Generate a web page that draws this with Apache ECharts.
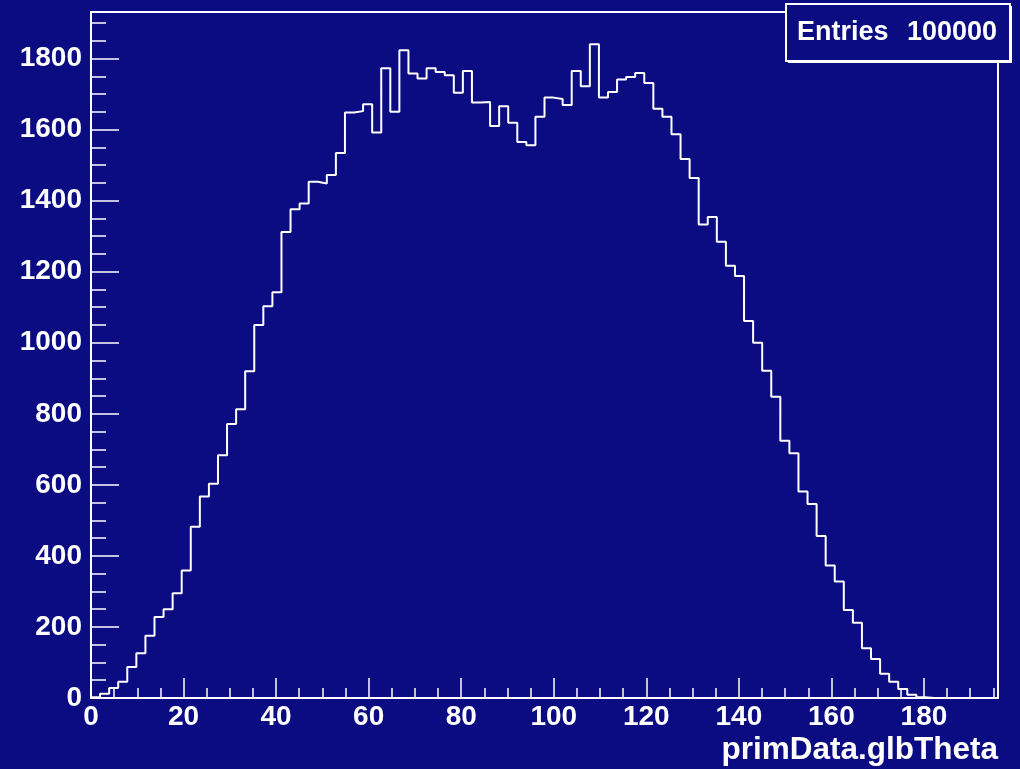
<!DOCTYPE html>
<html>
<head>
<meta charset="utf-8">
<script src="https://cdn.jsdelivr.net/npm/echarts@6/dist/echarts.min.js"></script>
<style>
  html, body { margin: 0; padding: 0; background: #0b0b82; }
  #chart { width: 1020px; height: 769px; }
</style>
</head>
<body>
<div id="chart"></div>
<script>
// Histogram of primData.glbTheta: 100 equal bins spanning [xMin, xMax]
const xMin = 0;
const xMax = 196;
const nBins = 100;
const entries = 100000;
const xTitle = 'primData.glbTheta';

// bin contents, left to right
const counts = [
  2, 12, 28, 46, 87, 126, 175, 228, 250, 295,
  359, 482, 567, 603, 683, 771, 813, 920, 1050, 1103,
  1142, 1312, 1376, 1392, 1453, 1448, 1472, 1534, 1648, 1652,
  1671, 1592, 1773, 1650, 1823, 1758, 1744, 1773, 1762, 1753,
  1704, 1765, 1676, 1678, 1610, 1666, 1619, 1565, 1556, 1636,
  1690, 1686, 1669, 1765, 1722, 1840, 1690, 1706, 1741, 1748,
  1759, 1731, 1659, 1636, 1587, 1517, 1464, 1333, 1354, 1284,
  1217, 1188, 1061, 1000, 921, 848, 724, 689, 581, 546,
  456, 373, 328, 248, 212, 140, 110, 68, 46, 25,
  9, 2, 0, 0, 0, 0, 0, 0, 0, 0
];

// axis ticks
const xMajorTicks = [0, 20, 40, 60, 80, 100, 120, 140, 160, 180];
const xMinorTicks = [5, 10, 15, 25, 30, 35, 45, 50, 55, 65, 70, 75, 85, 90, 95,
  105, 110, 115, 125, 130, 135, 145, 150, 155, 165, 170, 175, 185, 190, 195];
const yMajorTicks = [0, 200, 400, 600, 800, 1000, 1200, 1400, 1600, 1800];
const yMinorTicks = [50, 100, 150, 250, 300, 350, 450, 500, 550, 650, 700, 750,
  850, 900, 950, 1050, 1100, 1150, 1250, 1300, 1350, 1450, 1500, 1550,
  1650, 1700, 1750, 1850, 1900];
const yMax = 1931;

// step outline: each bin's left edge carries its content, closed at xMax
const binWidth = (xMax - xMin) / nBins;
const outline = counts.map((c, i) => [xMin + i * binWidth, c]);
outline.push([xMax, counts[counts.length - 1]]);

const FONT = '"Liberation Sans", Arial, Helvetica, sans-serif';
const WHITE = '#ffffff';
const BG = '#0b0b82';

const chart = echarts.init(document.getElementById('chart'), null, { renderer: 'canvas' });

const labelStyle = {
  color: WHITE, fontFamily: FONT, fontWeight: 'bold', fontSize: 28,
  formatter: (v) => String(v)
};

chart.setOption({
  backgroundColor: BG,
  animation: false,
  grid: {
    left: 91, right: 22, top: 12, bottom: 71,
    show: true, borderColor: WHITE, borderWidth: 2,
    backgroundColor: 'transparent',
    containLabel: false,
    outerBoundsMode: 'none'
  },
  xAxis: [
    {
      type: 'value', min: xMin, max: xMax, position: 'bottom',
      axisLine: { show: false },
      splitLine: { show: false },
      axisTick: { show: true, inside: true, length: 20, customValues: xMajorTicks,
        lineStyle: { color: WHITE, width: 1.5 } },
      axisLabel: { show: true, customValues: xMajorTicks, margin: 5, ...labelStyle }
    },
    {
      type: 'value', min: xMin, max: xMax, position: 'bottom',
      axisLine: { show: false },
      splitLine: { show: false },
      axisTick: { show: true, inside: true, length: 10, customValues: xMinorTicks,
        lineStyle: { color: WHITE, width: 1.5 } },
      axisLabel: { show: false }
    }
  ],
  yAxis: [
    {
      type: 'value', min: 0, max: yMax, position: 'left',
      axisLine: { show: false },
      splitLine: { show: false },
      axisTick: { show: true, inside: true, length: 28, customValues: yMajorTicks,
        lineStyle: { color: WHITE, width: 1.5 } },
      axisLabel: { show: true, customValues: yMajorTicks, margin: 9, ...labelStyle }
    },
    {
      type: 'value', min: 0, max: yMax, position: 'left',
      axisLine: { show: false },
      splitLine: { show: false },
      axisTick: { show: true, inside: true, length: 15, customValues: yMinorTicks,
        lineStyle: { color: WHITE, width: 1.5 } },
      axisLabel: { show: false }
    }
  ],
  series: [
    {
      name: xTitle,
      type: 'line',
      xAxisIndex: 0,
      yAxisIndex: 0,
      step: 'end',
      showSymbol: false,
      symbol: 'none',
      data: outline,
      lineStyle: { color: WHITE, width: 2 },
      z: 3
    }
  ],
  graphic: [
    // statistics box with drop shadow
    { type: 'rect', z: 100, shape: { x: 788, y: 6, width: 224, height: 57 },
      style: { fill: WHITE } },
    { type: 'rect', z: 101, shape: { x: 786, y: 4, width: 224, height: 57 },
      style: { fill: BG, stroke: WHITE, lineWidth: 2 } },
    { type: 'text', z: 102, x: 797, y: 33,
      style: { text: 'Entries', fill: WHITE, font: 'bold 27px ' + FONT,
        textAlign: 'left', textVerticalAlign: 'middle' } },
    { type: 'text', z: 102, x: 997, y: 33,
      style: { text: String(entries), fill: WHITE, font: 'bold 27px ' + FONT,
        textAlign: 'right', textVerticalAlign: 'middle' } },
    // x axis title
    { type: 'text', z: 102, x: 998, y: 750,
      style: { text: xTitle, fill: WHITE, font: 'bold 31.5px ' + FONT,
        textAlign: 'right', textVerticalAlign: 'middle' } }
  ]
});
</script>
</body>
</html>
